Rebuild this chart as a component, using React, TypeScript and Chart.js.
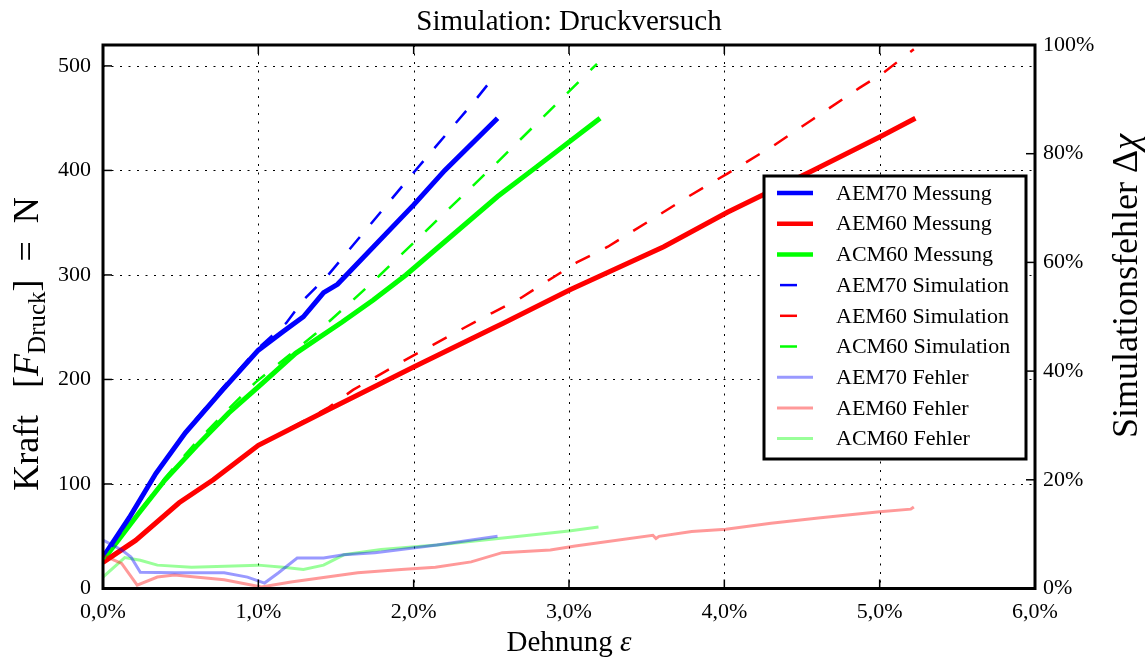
import React, { useEffect, useRef } from "react";
import { Chart, registerables } from "chart.js";

Chart.register(...registerables);

const FONT = "'Liberation Serif', 'Times New Roman', serif";

// ---------- data (strain in %, force in N, error in %) ----------
const strainTicks = [0, 1, 2, 3, 4, 5, 6];
const forceTicks = [0, 100, 200, 300, 400, 500];
const errorTicks = [0, 20, 40, 60, 80, 100];

const aem70MessStrain = [0, 0.17, 0.34, 0.53, 0.77, 1.0, 1.16, 1.29, 1.38, 1.42, 1.51, 2.0, 2.2, 2.54];
const aem70MessForce = [30, 68, 110, 149, 190, 228, 246, 260, 276, 283, 291, 367, 400, 450];

const aem60MessStrain = [0, 0.21, 0.49, 0.71, 1.0, 1.45, 2.0, 2.51, 2.58, 3.01, 3.61, 4.02, 4.57, 5.0, 5.23];
const aem60MessForce = [25, 46, 82, 104, 137, 171, 212, 249, 254, 286, 327, 360, 400, 432, 450];

const acm60MessStrain = [0, 0.23, 0.4, 0.6, 0.81, 1.0, 1.24, 1.54, 1.74, 1.95, 2.54, 2.77, 3.2];
const acm60MessForce = [27, 72, 104, 136, 168, 193, 225, 255, 276, 300, 375, 401, 450];

const aem70SimStrain = [0, 0.17, 0.34, 0.53, 0.77, 1.0, 1.18, 1.29, 1.45, 2.0, 2.39, 2.53];
const aem70SimForce = [30, 68, 110, 150, 192, 230, 254, 276, 300, 398, 466, 492];

const aem60SimStrain = [0, 0.21, 0.49, 0.71, 1.0, 1.45, 1.61, 1.95, 2.32, 2.51, 2.69, 3.05, 3.25, 3.78, 4.02, 4.32, 4.57, 4.87, 5.02, 5.22];
const aem60SimForce = [25, 46, 82, 104, 137, 173, 190, 219, 249, 264, 278, 312, 327, 376, 397, 424, 449, 479, 493, 516];

const acm60SimStrain = [0, 0.23, 0.4, 0.6, 0.81, 0.98, 1.37, 1.61, 1.77, 2.54, 3.18];
const acm60SimForce = [27, 73, 106, 140, 172, 197, 244, 276, 298, 408, 502];

const aem70ErrStrain = [0, 0.12, 0.18, 0.24, 0.46, 0.78, 0.93, 1.04, 1.13, 1.25, 1.42, 1.55, 1.75, 1.79, 2.15, 2.54];
const aem70ErrValue = [8.9, 7.1, 5.8, 3.0, 2.9, 2.9, 2.1, 1.0, 2.9, 5.6, 5.6, 6.2, 6.6, 6.7, 8.0, 9.6];

const aem60ErrStrain = [0, 0.12, 0.22, 0.35, 0.46, 0.78, 1.02, 1.21, 1.64, 1.92, 2.14, 2.37, 2.57, 2.88, 3.04, 3.54, 3.56, 3.58, 3.79, 4.01, 4.3, 4.62, 5.0, 5.2, 5.22];
const aem60ErrValue = [6.1, 4.6, 0.6, 2.1, 2.5, 1.6, 0.3, 1.2, 2.9, 3.5, 3.9, 4.9, 6.6, 7.1, 7.8, 9.8, 9.2, 9.6, 10.5, 10.9, 12.0, 13.0, 14.1, 14.6, 15.0];

const acm60ErrStrain = [0, 0.14, 0.24, 0.35, 0.57, 1.0, 1.16, 1.29, 1.42, 1.55, 1.79, 2.15, 3.0, 3.19];
const acm60ErrValue = [2.1, 5.7, 5.2, 4.3, 3.9, 4.3, 3.9, 3.5, 4.3, 6.2, 7.2, 8.0, 10.6, 11.3];

const seriesLabels = [
  "AEM70 Messung",
  "AEM60 Messung",
  "ACM60 Messung",
  "AEM70 Simulation",
  "AEM60 Simulation",
  "ACM60 Simulation",
  "AEM70 Fehler",
  "AEM60 Fehler",
  "ACM60 Fehler",
];

const BLUE = "#0000ff";
const RED = "#ff0000";
const GREEN = "#00ff00";
const LBLUE = "rgba(0,0,255,0.4)";
const LRED = "rgba(255,0,0,0.4)";
const LGREEN = "rgba(0,255,0,0.4)";

const pts = (xs: number[], ys: number[]) => xs.map((x, i) => ({ x, y: ys[i] }));

type Run = { text: string; font: string; dy?: number };

function drawRuns(ctx: CanvasRenderingContext2D, runs: Run[], x: number, y: number) {
  let cx = x;
  for (const r of runs) {
    ctx.font = r.font;
    ctx.fillText(r.text, cx, y + (r.dy || 0));
    cx += ctx.measureText(r.text).width;
  }
}
function runsWidth(ctx: CanvasRenderingContext2D, runs: Run[]) {
  let w = 0;
  for (const r of runs) {
    ctx.font = r.font;
    w += ctx.measureText(r.text).width;
  }
  return w;
}

const decorPlugin = {
  id: "decor",
  beforeDatasetsDraw(chart: any) {
    const { ctx, chartArea: a, scales } = chart;
    ctx.save();
    ctx.strokeStyle = "#000";
    ctx.lineWidth = 1;
    ctx.setLineDash([2, 6.5]);
    for (const v of strainTicks) {
      const px = Math.round(scales.x.getPixelForValue(v)) + 0.5;
      if (px <= a.left + 2 || px >= a.right - 2) continue;
      ctx.beginPath();
      ctx.moveTo(px, a.top);
      ctx.lineTo(px, a.bottom);
      ctx.stroke();
    }
    for (const v of forceTicks) {
      const py = Math.round(scales.y.getPixelForValue(v)) + 0.5;
      if (py <= a.top + 2 || py >= a.bottom - 2) continue;
      ctx.beginPath();
      ctx.moveTo(a.left, py);
      ctx.lineTo(a.right, py);
      ctx.stroke();
    }
    ctx.restore();
  },
  afterDraw(chart: any) {
    const { ctx, chartArea: a, scales } = chart;
    ctx.save();
    ctx.setLineDash([]);
    ctx.strokeStyle = "#000";
    ctx.lineWidth = 1.5;
    const TL = 9;
    for (const v of strainTicks) {
      const px = scales.x.getPixelForValue(v);
      ctx.beginPath();
      ctx.moveTo(px, a.bottom);
      ctx.lineTo(px, a.bottom - TL);
      ctx.moveTo(px, a.top);
      ctx.lineTo(px, a.top + TL);
      ctx.stroke();
    }
    for (const v of forceTicks) {
      const py = scales.y.getPixelForValue(v);
      ctx.beginPath();
      ctx.moveTo(a.left, py);
      ctx.lineTo(a.left + TL, py);
      ctx.stroke();
    }
    for (const v of errorTicks) {
      const py = scales.y1.getPixelForValue(v);
      ctx.beginPath();
      ctx.moveTo(a.right, py);
      ctx.lineTo(a.right - TL, py);
      ctx.stroke();
    }
    // frame
    ctx.lineWidth = 3;
    ctx.strokeRect(a.left, a.top, a.right - a.left, a.bottom - a.top);

    // legend
    const lx = 764, ly = 176, lw = 262, lh = 283;
    ctx.fillStyle = "#fff";
    ctx.fillRect(lx, ly, lw, lh);
    ctx.lineWidth = 3;
    ctx.strokeStyle = "#000";
    ctx.strokeRect(lx, ly, lw, lh);
    const ds = chart.data.datasets;
    ctx.textBaseline = "middle";
    ctx.textAlign = "left";
    for (let i = 0; i < ds.length; i++) {
      const d = ds[i];
      const yy = 193 + i * 30.7;
      ctx.strokeStyle = d.borderColor;
      ctx.lineWidth = d.legendWidth;
      ctx.beginPath();
      if (d.borderDash) {
        ctx.moveTo(780, yy);
        ctx.lineTo(797, yy);
      } else {
        ctx.moveTo(777, yy);
        ctx.lineTo(813, yy);
      }
      ctx.stroke();
      ctx.fillStyle = "#000";
      ctx.font = `22px ${FONT}`;
      ctx.fillText(d.label, 836, yy + 1);
    }

    // titles
    ctx.fillStyle = "#000";
    ctx.textBaseline = "alphabetic";
    ctx.textAlign = "left";
    const cx = (a.left + a.right) / 2;
    const titleRuns: Run[] = [{ text: "Simulation: Druckversuch", font: `29px ${FONT}` }];
    drawRuns(ctx, titleRuns, cx - runsWidth(ctx, titleRuns) / 2, 30);

    const xRuns: Run[] = [
      { text: "Dehnung ", font: `29px ${FONT}` },
      { text: "ε", font: `italic 29px ${FONT}` },
    ];
    drawRuns(ctx, xRuns, cx - runsWidth(ctx, xRuns) / 2, 651);

    const yRuns: Run[] = [
      { text: "Kraft   [", font: `36px ${FONT}` },
      { text: "F", font: `italic 36px ${FONT}` },
      { text: "Druck", font: `25px ${FONT}`, dy: 7 },
      { text: "]  =  N", font: `36px ${FONT}` },
    ];
    ctx.save();
    ctx.translate(38, 344);
    ctx.rotate(-Math.PI / 2);
    drawRuns(ctx, yRuns, -runsWidth(ctx, yRuns) / 2, 0);
    ctx.restore();

    const y1Runs: Run[] = [
      { text: "Simulationsfehler Δ", font: `36px ${FONT}` },
      { text: "χ", font: `italic 36px ${FONT}` },
    ];
    ctx.save();
    ctx.translate(1137, 286);
    ctx.rotate(-Math.PI / 2);
    drawRuns(ctx, y1Runs, -runsWidth(ctx, y1Runs) / 2, 0);
    ctx.restore();

    ctx.restore();
  },
};

export default function App() {
  const ref = useRef<HTMLCanvasElement>(null);
  useEffect(() => {
    document.body.style.margin = "0";
    const canvas = ref.current!;
    const tickFont = { family: FONT, size: 22 };
    const mk = (
      i: number,
      xs: number[],
      ys: number[],
      color: string,
      width: number,
      legendWidth: number,
      axis: string,
      order: number,
      dash?: number[]
    ): any => ({
      label: seriesLabels[i],
      data: pts(xs, ys),
      borderColor: color,
      backgroundColor: color,
      borderWidth: width,
      legendWidth,
      borderDash: dash,
      yAxisID: axis,
      order,
      fill: false,
      pointRadius: 0,
      tension: 0,
    });
    const chart = new Chart(canvas, {
      type: "line",
      data: {
        datasets: [
          mk(0, aem70MessStrain, aem70MessForce, BLUE, 5, 4.5, "y", 3),
          mk(1, aem60MessStrain, aem60MessForce, RED, 5, 4.5, "y", 3),
          mk(2, acm60MessStrain, acm60MessForce, GREEN, 5, 4.5, "y", 3),
          mk(3, aem70SimStrain, aem70SimForce, BLUE, 2.5, 2.5, "y", 2, [16, 17]),
          mk(4, aem60SimStrain, aem60SimForce, RED, 2.5, 2.5, "y", 2, [16, 17]),
          mk(5, acm60SimStrain, acm60SimForce, GREEN, 2.5, 2.5, "y", 2, [16, 17]),
          mk(6, aem70ErrStrain, aem70ErrValue, LBLUE, 3, 3, "y1", 1),
          mk(7, aem60ErrStrain, aem60ErrValue, LRED, 3, 3, "y1", 1),
          mk(8, acm60ErrStrain, acm60ErrValue, LGREEN, 3, 3, "y1", 1),
        ],
      },
      options: {
        responsive: false,
        animation: false,
        devicePixelRatio: 1,
        layout: { padding: { top: 45, left: 0, right: 0, bottom: 0 } },
        plugins: {
          legend: { display: false },
          title: { display: false },
          tooltip: { enabled: false },
        },
        elements: { point: { radius: 0 }, line: { tension: 0 } },
        scales: {
          x: {
            type: "linear",
            position: "bottom",
            min: 0,
            max: 6,
            grid: { display: false, drawTicks: false },
            border: { display: false },
            ticks: {
              stepSize: 1,
              padding: 11,
              color: "#000",
              font: tickFont,
              maxRotation: 0,
              autoSkip: false,
              callback: (v: any) => Number(v).toFixed(1).replace(".", ",") + "%",
            },
            afterFit: (s: any) => {
              s.height = 68.5;
            },
          },
          y: {
            type: "linear",
            position: "left",
            min: 0,
            max: 520,
            grid: { display: false, drawTicks: false },
            border: { display: false },
            ticks: {
              stepSize: 100,
              includeBounds: false,
              padding: 12,
              color: "#000",
              font: tickFont,
            },
            afterFit: (s: any) => {
              s.width = 103;
            },
          },
          y1: {
            type: "linear",
            position: "right",
            min: 0,
            max: 100,
            grid: { display: false, drawTicks: false },
            border: { display: false },
            ticks: {
              stepSize: 20,
              padding: 8,
              color: "#000",
              font: tickFont,
              callback: (v: any) => v + "%",
            },
            afterFit: (s: any) => {
              s.width = 111;
            },
          },
        },
      } as any,
      plugins: [decorPlugin],
    });
    return () => chart.destroy();
  }, []);
  return (
    <canvas
      ref={ref}
      width={1146}
      height={657}
      style={{ display: "block", width: 1146, height: 657 }}
    />
  );
}
